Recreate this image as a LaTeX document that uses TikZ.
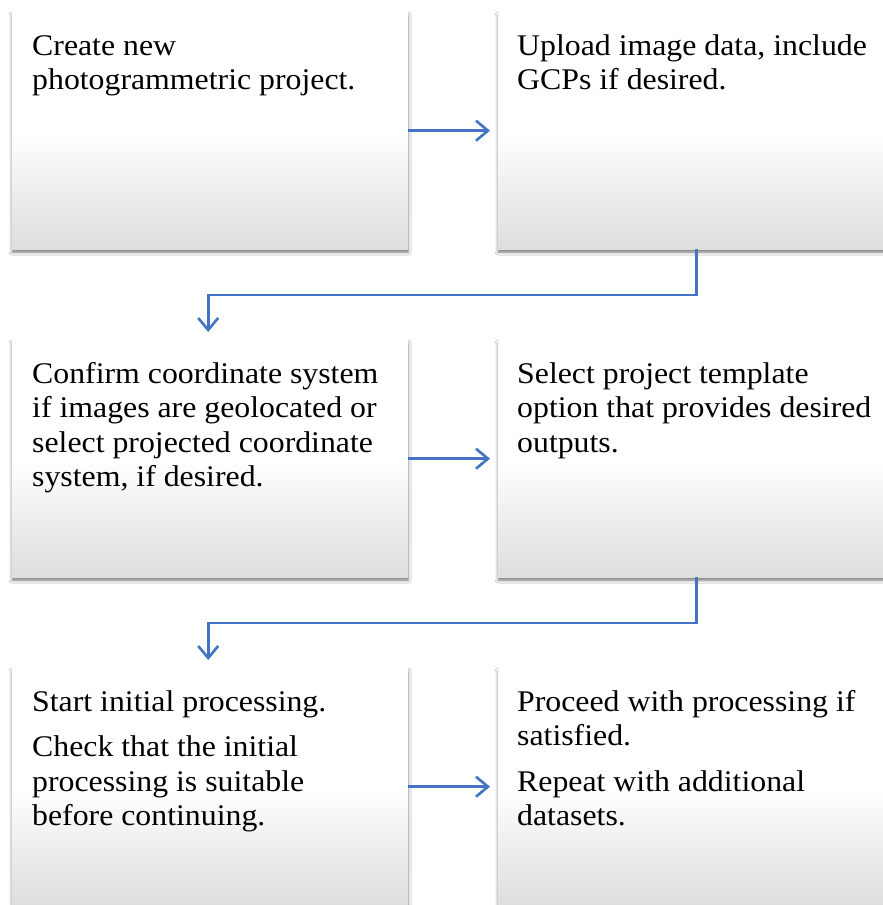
\documentclass[tikz,border=0pt]{standalone}
\usepackage{fontspec}
\setmainfont{Liberation Serif}[FakeStretch=1.06]
\usetikzlibrary{arrows.meta,shadows.blur}
\definecolor{flowblue}{HTML}{4472C4}
\begin{document}
\begin{tikzpicture}[x=1pt,y=-1pt,
  stepbox/.style={anchor=north west, minimum width=396pt, minimum height=237pt,
    inner sep=0pt, draw=none, top color=white, bottom color=black!13, middle color=white,
    blur shadow={shadow xshift=0pt, shadow yshift=-3pt, shadow blur radius=3pt,
      shadow opacity=55}},
  steptext/.style={anchor=north west, inner sep=0pt, align=left,
    font=\fontsize{30}{34.5}\selectfont},
  flow/.style={draw=flowblue, line width=2.6pt,
    -{Straight Barb[length=12pt,width=20pt]}}]
\useasboundingbox (0,0) rectangle (883,905);
\clip (0,0) rectangle (883,905);
\fill[white] (0,0) rectangle (883,905);

% boxes
\node[stepbox] (b1) at (12,12) {};
\node[stepbox] (b2) at (498,12) {};
\node[stepbox] (b3) at (12,340) {};
\node[stepbox] (b4) at (498,340) {};
\node[stepbox] (b5) at (12,668) {};
\node[stepbox] (b6) at (498,668) {};

% texts (first baseline about 43pt below the box top)
\node[steptext] (t1) at ([shift={(20pt,-19pt)}]b1.north west)
  {\strut Create new\\photogrammetric project.};
\node[steptext] (t2) at ([shift={(19pt,-19pt)}]b2.north west)
  {\strut Upload image data, include\\GCPs if desired.};
\node[steptext] (t3) at ([shift={(20pt,-19pt)}]b3.north west)
  {\strut Confirm coordinate system\\if images are geolocated or\\select projected coordinate\\system, if desired.};
\node[steptext] (t4) at ([shift={(19pt,-19pt)}]b4.north west)
  {\strut Select project template\\option that provides desired\\outputs.};
\node[steptext] (t5) at ([shift={(20pt,-19pt)}]b5.north west)
  {\strut Start initial processing.\\[11pt]Check that the initial\\processing is suitable\\before continuing.};
\node[steptext] (t6) at ([shift={(19pt,-19pt)}]b6.north west)
  {\strut Proceed with processing if\\satisfied.\\[11pt]Repeat with additional\\datasets.};

% connectors
\draw[flow] (b1.east) -- ([xshift=-8pt]b2.west);
\draw[flow] (b3.east) -- ([xshift=-8pt]b4.west);
\draw[flow] (b5.east) -- ([xshift=-8pt]b6.west);
\draw[flow] (b2.south) -- ++(0,-45.5pt) -| ([xshift=-2pt,yshift=8pt]b3.north);
\draw[flow] (b4.south) -- ++(0,-45.5pt) -| ([xshift=-2pt,yshift=8pt]b5.north);
\end{tikzpicture}
\end{document}
